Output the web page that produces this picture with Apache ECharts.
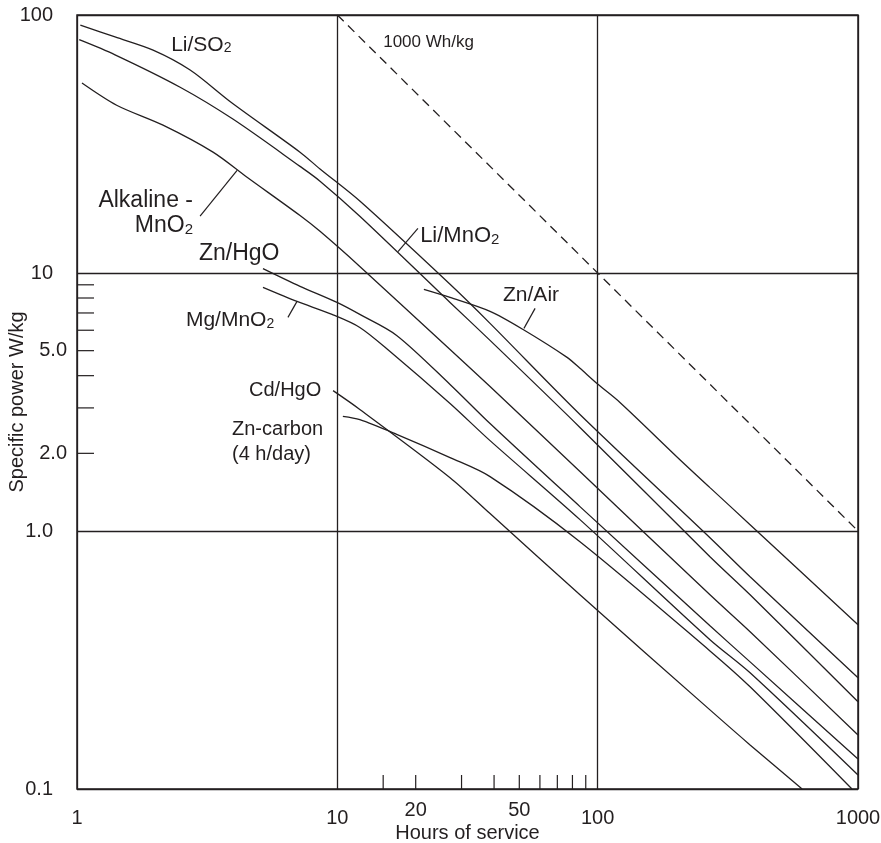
<!DOCTYPE html>
<html>
<head>
<meta charset="utf-8">
<title>Specific power vs hours of service</title>
<script src="https://cdn.jsdelivr.net/npm/echarts@6.0.0/dist/echarts.min.js"></script>
<style>
html,body{margin:0;padding:0;background:#ffffff;}
#chart{width:881px;height:843px;}
</style>
</head>
<body>
<div id="chart"></div>
<script>
// ---------------- data: hours of service (h) and specific power (W/kg) ----------------
const liSO2Hours = [1.03, 1.40, 1.96, 2.72, 3.94, 7.19, 8.58, 12.2, 27.1, 38.6, 85.5, 270, 385, 1000];
const liSO2Power = [91.4, 82.2, 73.1, 61.2, 45.6, 29.4, 25.3, 19.0, 9.04, 6.38, 2.83, 0.942, 0.665, 0.270];

const liMnO2Hours = [1.02, 1.40, 2.49, 3.97, 7.19, 8.58, 12.2, 27.1, 38.6, 85.5, 270, 385, 1000];
const liMnO2Power = [80.2, 70.1, 52.5, 39.5, 25.9, 22.7, 16.6, 7.69, 5.48, 2.52, 0.795, 0.566, 0.218];

const alkalineHours = [1.045, 1.42, 2.14, 3.33, 4.50, 7.19, 8.58, 12.2, 27.1, 38.6, 85.5, 270, 385, 1000];
const alkalinePower = [54.5, 44.7, 37.4, 29.4, 23.5, 16.7, 14.5, 10.6, 5.05, 3.63, 1.70, 0.566, 0.407, 0.162];

const znHgOHours = [5.18, 7.19, 9.97, 12.2, 16.9, 27.1, 38.6, 85.5, 270, 385, 1000];
const znHgOPower = [10.4, 8.88, 7.69, 6.91, 5.73, 3.70, 2.61, 1.243, 0.429, 0.311, 0.1307];

const mgMnO2Hours = [5.18, 7.00, 9.54, 12.2, 15.9, 27.1, 38.6, 85.5, 270, 385, 1000];
const mgMnO2Power = [8.80, 7.76, 6.91, 6.15, 4.97, 3.12, 2.24, 1.107, 0.379, 0.282, 0.1133];

const znAirHours = [21.5, 27.1, 38.6, 51.7, 76.3, 85.5, 99.4, 121.8, 207, 270, 385, 1000];
const znAirPower = [8.64, 8.04, 7.10, 6.04, 4.71, 4.27, 3.73, 3.15, 1.89, 1.473, 1.058, 0.433];

const cdHgOHours = [9.63, 12.2, 27.1, 38.6, 85.5, 270, 385, 610];
const cdHgOPower = [3.50, 2.96, 1.61, 1.168, 0.566, 0.2026, 0.1482, 0.1];

const znCarbonHours = [10.5, 12.2, 16.9, 27.1, 38.6, 85.5, 270, 385, 948];
const znCarbonPower = [2.78, 2.70, 2.37, 1.926, 1.625, 0.909, 0.343, 0.249, 0.1];

// constant-energy reference line: 1000 Wh/kg
const energyLineHours = [10, 1000];
const energyLinePower = [100, 1];

// axis ticks and labels
const xTickValues = [1, 10, 100, 1000];
const xTickLabels = ['1', '10', '100', '1000'];
const yTickValues = [0.1, 1, 10, 100];
const yTickLabels = ['0.1', '1.0', '10', '100'];
const xMinorTicks = [15, 20, 30, 40, 50, 60, 70, 80, 90];
const xMinorLabelValues = [20, 50];
const xMinorLabelTexts = ['20', '50'];
const yMinorTicks = [2, 3, 4, 5, 6, 7, 8, 9];
const yMinorLabelValues = [2, 5];
const yMinorLabelTexts = ['2.0', '5.0'];

// ---------------- annotations (anchor in data coordinates) ----------------
const annText = ['Li/SO{s|2}', '1000 Wh/kg', 'Alkaline -', 'MnO{s|2}', 'Zn/HgO', 'Li/MnO{s|2}',
                 'Zn/Air', 'Mg/MnO{s|2}', 'Cd/HgO', 'Zn-carbon', '(4 h/day)'];
const annHours = [2.30, 15.0, 2.79, 2.79, 2.94, 20.8, 43.3, 2.62, 4.58, 3.94, 3.94];
const annPower = [76.5, 78.5, 19.0, 15.2, 11.9, 13.9, 8.19, 6.55, 3.50, 2.47, 1.98];
const annAlign = ['left', 'left', 'right', 'right', 'left', 'left', 'left', 'left', 'left', 'left', 'left'];
const annSize = [21, 17, 23, 23, 23, 22, 21, 21, 20, 20, 20];

// leader lines (from label to curve)
const leaderAlkaline = [[2.97, 16.6], [4.12, 25.0]];
const leaderMgMnO2 = [[6.46, 6.73], [7.00, 7.76]];
const leaderZnAir = [[52.1, 6.10], [57.5, 7.29]];
const leaderLiMnO2 = [[17.1, 12.1], [20.4, 14.9]];

// ---------------- chart ----------------
const FONT = '"Liberation Sans", Arial, Helvetica, sans-serif';
const INK = '#231f20';
const X_MIN = 1, X_MAX = 1000, Y_MIN = 0.1, Y_MAX = 100;

function pairs(h, p) { return h.map((v, i) => [v, p[i]]); }
function matchLabel(values, labels, v) {
  const i = values.findIndex(t => Math.abs(Math.log10(t) - Math.log10(v)) < 1e-6);
  return i >= 0 ? labels[i] : '';
}
function textEl(x, y, text, size, align) {
  return {
    type: 'text', x: x, y: y, silent: true,
    style: {
      text: text, fill: INK, fontFamily: FONT, fontSize: size,
      align: align, verticalAlign: 'middle',
      rich: { s: { fontSize: Math.round(size * 0.66), fontFamily: FONT, fill: INK, lineHeight: 10, verticalAlign: 'bottom' } }
    }
  };
}

const curves = [
  pairs(liSO2Hours, liSO2Power),
  pairs(liMnO2Hours, liMnO2Power),
  pairs(alkalineHours, alkalinePower),
  pairs(znHgOHours, znHgOPower),
  pairs(mgMnO2Hours, mgMnO2Power),
  pairs(znAirHours, znAirPower),
  pairs(cdHgOHours, cdHgOPower),
  pairs(znCarbonHours, znCarbonPower)
];

const series = [];
curves.forEach(d => series.push({
  type: 'line', data: d, smooth: 0.3, symbol: 'none', silent: true, z: 3,
  lineStyle: { color: INK, width: 1.3 }
}));
series.push({
  type: 'line', data: pairs(energyLineHours, energyLinePower), symbol: 'none', silent: true, z: 3,
  lineStyle: { color: INK, width: 1.3, type: [9, 6] }
});
[leaderAlkaline, leaderMgMnO2, leaderZnAir, leaderLiMnO2].forEach(d => series.push({
  type: 'line', data: d, symbol: 'none', silent: true, z: 3,
  lineStyle: { color: INK, width: 1.2 }
}));
// x minor ticks (inside, on bottom axis) with labels 20, 50
series.push({
  type: 'custom', coordinateSystem: 'cartesian2d', silent: true, z: 4,
  data: xMinorTicks.map(v => [v, Y_MIN]),
  renderItem: (params, api) => {
    const v = xMinorTicks[params.dataIndex];
    const p = api.coord([v, Y_MIN]);
    const children = [{ type: 'line', shape: { x1: p[0], y1: p[1], x2: p[0], y2: p[1] - 14 },
      style: { stroke: INK, lineWidth: 1.2 } }];
    const k = xMinorLabelValues.indexOf(v);
    if (k >= 0) children.push(textEl(p[0], p[1] + 21, xMinorLabelTexts[k], 20, 'center'));
    return { type: 'group', children: children };
  }
});
// y minor ticks (inside, on left axis) with labels 2.0, 5.0
series.push({
  type: 'custom', coordinateSystem: 'cartesian2d', silent: true, z: 4,
  data: yMinorTicks.map(v => [X_MIN, v]),
  renderItem: (params, api) => {
    const v = yMinorTicks[params.dataIndex];
    const p = api.coord([X_MIN, v]);
    const children = [{ type: 'line', shape: { x1: p[0], y1: p[1], x2: p[0] + 17, y2: p[1] },
      style: { stroke: INK, lineWidth: 1.2 } }];
    const k = yMinorLabelValues.indexOf(v);
    if (k >= 0) children.push(textEl(p[0] - 10, p[1], yMinorLabelTexts[k], 20, 'right'));
    return { type: 'group', children: children };
  }
});
// annotations
series.push({
  type: 'custom', coordinateSystem: 'cartesian2d', silent: true, z: 5,
  data: annHours.map((h, i) => [h, annPower[i]]),
  renderItem: (params, api) => {
    const i = params.dataIndex;
    const p = api.coord([annHours[i], annPower[i]]);
    return textEl(p[0], p[1], annText[i], annSize[i], annAlign[i]);
  }
});

const chart = echarts.init(document.getElementById('chart'), null, { renderer: 'canvas' });
chart.setOption({
  animation: false,
  backgroundColor: '#ffffff',
  grid: {
    left: 77, right: 23, top: 15, bottom: 54, show: true,
    borderColor: INK, borderWidth: 1.5, backgroundColor: 'transparent',
    containLabel: false, outerBoundsMode: 'none'
  },
  xAxis: {
    type: 'log', logBase: 10, min: X_MIN, max: X_MAX,
    name: 'Hours of service', nameLocation: 'middle', nameGap: 34, nameMoveOverlap: false,
    nameTextStyle: { color: INK, fontFamily: FONT, fontSize: 20 },
    axisLine: { show: false }, axisTick: { show: false },
    splitLine: { show: true, lineStyle: { color: INK, width: 1.3 } },
    axisLabel: {
      color: INK, fontFamily: FONT, fontSize: 20, margin: 19,
      showMinLabel: true, showMaxLabel: true, hideOverlap: false,
      formatter: v => matchLabel(xTickValues, xTickLabels, v)
    }
  },
  yAxis: {
    type: 'log', logBase: 10, min: Y_MIN, max: Y_MAX,
    name: 'Specific power W/kg', nameLocation: 'middle', nameGap: 50, nameRotate: 90, nameMoveOverlap: false,
    nameTextStyle: { color: INK, fontFamily: FONT, fontSize: 20 },
    axisLine: { show: false }, axisTick: { show: false },
    splitLine: { show: true, lineStyle: { color: INK, width: 1.3 } },
    axisLabel: {
      color: INK, fontFamily: FONT, fontSize: 20, margin: 24,
      showMinLabel: true, showMaxLabel: true, hideOverlap: false,
      formatter: v => matchLabel(yTickValues, yTickLabels, v)
    }
  },
  series: series
});
</script>
</body>
</html>
